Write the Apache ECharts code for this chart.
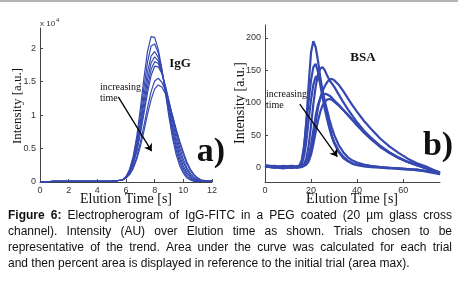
<!DOCTYPE html>
<html>
<head>
<meta charset="utf-8">
<script src="https://cdn.jsdelivr.net/npm/echarts@6/dist/echarts.min.js"></script>
<style>
  html, body { margin: 0; padding: 0; background: #fff; }
  #fig { width: 458px; height: 283px; }
</style>
</head>
<body>
<div id="fig"></div>
<script>
// a) IgG, intensity in units of 10^4
const elutionTimeA = [0, 1, 2, 3, 4, 5, 5.75, 6, 6.25, 6.5, 6.75, 7, 7.25, 7.5, 7.75, 8, 8.25, 8.5, 8.75, 9, 9.25, 9.5, 9.75, 10, 10.25, 10.5, 10.75, 11, 11.25, 11.5, 12];
const iggTrial1 = [0, 0.01, 0.01, 0.01, 0.01, 0.01, 0.03, 0.08, 0.19, 0.38, 0.68, 1.09, 1.55, 1.95, 2.17, 2.16, 1.98, 1.69, 1.33, 0.97, 0.65, 0.41, 0.24, 0.13, 0.06, 0.03, 0.01, 0.01, 0.01, 0.01, 0.01];
const iggTrial2 = [0, 0.01, 0.01, 0.01, 0.01, 0.01, 0.03, 0.08, 0.17, 0.35, 0.62, 0.99, 1.41, 1.79, 2.03, 2.06, 1.93, 1.68, 1.36, 1.03, 0.72, 0.47, 0.29, 0.16, 0.08, 0.04, 0.02, 0.01, 0.01, 0.01, 0.01];
const iggTrial3 = [0, 0.01, 0.01, 0.01, 0.01, 0.01, 0.03, 0.07, 0.16, 0.32, 0.56, 0.89, 1.28, 1.64, 1.88, 1.95, 1.86, 1.66, 1.38, 1.07, 0.78, 0.53, 0.34, 0.20, 0.11, 0.06, 0.03, 0.01, 0.01, 0.01, 0.01];
const iggTrial4 = [0, 0.01, 0.01, 0.01, 0.01, 0.01, 0.03, 0.07, 0.15, 0.29, 0.52, 0.82, 1.18, 1.52, 1.78, 1.87, 1.81, 1.65, 1.40, 1.12, 0.84, 0.59, 0.39, 0.24, 0.14, 0.08, 0.04, 0.02, 0.01, 0.01, 0.01];
const iggTrial5 = [0, 0.01, 0.01, 0.01, 0.01, 0.01, 0.03, 0.07, 0.14, 0.28, 0.48, 0.76, 1.09, 1.42, 1.68, 1.80, 1.77, 1.63, 1.42, 1.17, 0.90, 0.65, 0.45, 0.29, 0.18, 0.10, 0.05, 0.03, 0.01, 0.01, 0.01];
const iggTrial6 = [0, 0.01, 0.01, 0.01, 0.01, 0.01, 0.03, 0.07, 0.14, 0.26, 0.45, 0.71, 1.02, 1.33, 1.59, 1.73, 1.72, 1.62, 1.44, 1.21, 0.96, 0.72, 0.51, 0.34, 0.21, 0.13, 0.07, 0.04, 0.02, 0.01, 0.01];
const iggTrial7 = [0, 0.01, 0.01, 0.01, 0.01, 0.01, 0.03, 0.06, 0.12, 0.22, 0.37, 0.59, 0.84, 1.11, 1.35, 1.51, 1.55, 1.49, 1.37, 1.19, 0.98, 0.77, 0.57, 0.41, 0.27, 0.17, 0.10, 0.06, 0.03, 0.02, 0.01];
const iggTrial8 = [0, 0.01, 0.01, 0.01, 0.01, 0.01, 0.03, 0.06, 0.11, 0.20, 0.34, 0.53, 0.76, 1.01, 1.23, 1.39, 1.45, 1.42, 1.32, 1.17, 0.99, 0.79, 0.61, 0.45, 0.30, 0.19, 0.11, 0.06, 0.03, 0.02, 0.01];
const iggYTicks = [0, 0.5, 1, 1.5, 2];

// b) BSA
const elutionTimeB = [0, 4, 8, 12, 14, 15, 16, 17, 18, 19, 20, 21, 22, 23, 24, 25, 26, 27, 28, 29, 30, 32, 34, 36, 38, 40, 43, 46, 50, 54, 58, 62, 66, 70, 76];
const bsaTrial1 = [3, 1, -1, 2, 1, 3, 8, 30, 75, 130, 178, 195, 186, 165, 140, 118, 98, 80, 64, 50, 40, 26, 17, 11, 7, 5, 3, 2, 1, 0, -1, -2, -3, -5, -8];
const bsaTrial2 = [2, 0, 3, 0, 2, 4, 12, 35, 70, 105, 135, 155, 160, 148, 128, 108, 90, 74, 60, 48, 38, 24, 15, 10, 6, 4, 2, 1, 0, -1, -1, -2, -4, -5, -9];
const bsaTrial3 = [4, 2, 0, 1, 0, 2, 6, 18, 42, 75, 105, 128, 140, 141, 132, 118, 103, 88, 74, 62, 51, 35, 24, 16, 11, 8, 5, 3, 1, 0, -2, -3, -3, -6, -10];
const bsaTrial4 = [1, 3, 1, 0, 2, 1, 3, 6, 15, 35, 65, 98, 125, 143, 153, 155, 150, 142, 135, 130, 125, 113, 101, 90, 80, 70, 57, 46, 33, 23, 15, 9, 4, 0, -7];
const bsaTrial5 = [2, 0, 2, 3, 1, 2, 2, 3, 6, 12, 25, 45, 70, 92, 108, 118, 126, 132, 136, 137, 135, 128, 118, 107, 96, 86, 72, 60, 45, 33, 23, 14, 7, 2, -8];
const bsaTrial6 = [3, 1, 0, 2, 0, 1, 2, 4, 8, 18, 35, 58, 80, 97, 107, 112, 114, 113, 111, 108, 104, 97, 89, 81, 73, 65, 54, 44, 32, 23, 15, 9, 4, -1, -9];
const bsaTrial7 = [1, 2, 1, 0, 2, 1, 1, 3, 5, 10, 20, 36, 55, 72, 86, 96, 102, 105, 106, 105, 102, 96, 89, 82, 74, 67, 56, 46, 34, 24, 16, 9, 4, -1, -10];
const bsaXTicks = [0, 20, 40, 60];
const bsaYTicks = [0, 50, 100, 150, 200];

const captionLines = [
  'Figure 6: Electropherogram of IgG-FITC in a PEG coated (20 µm glass cross',
  'channel). Intensity (AU) over Elution time as shown. Trials chosen to be',
  'representative of the trend. Area under the curve was calculated for each trial',
  'and then percent area is displayed in reference to the initial trial (area max).'
];

let chart = echarts.init(document.getElementById('fig'));

const blue = '#3548b0';
const serif = '"Liberation Serif", "DejaVu Serif", serif';
const sans = '"Liberation Sans", Arial, sans-serif';

function pairs(xs, ys) {
  return xs.map((x, i) => [x, ys[i]]);
}

let axisCommon = {
  type: 'value',
  splitLine: { show: false },
  axisLine: { show: true, onZero: false, lineStyle: { color: '#444', width: 1 } },
  axisTick: { show: true, inside: true, length: 3, lineStyle: { color: '#444' } },
  axisLabel: { fontSize: 9, color: '#333', fontFamily: sans, margin: 4 }
};

// justified caption, word by word
function captionGraphics() {
  let ctx = document.createElement('canvas').getContext('2d');
  let size = 12, left = 8, right = 452, top = 215.5, step = 16.2;
  let els = [];
  captionLines.forEach(function (line, i) {
    let words = line.split(' ').map(function (w, k) {
      let bold = i === 0 && k < 2;
      ctx.font = (bold ? 'bold ' : '') + size + 'px "Liberation Sans"';
      return { w: w, bold: bold, width: ctx.measureText(w).width };
    });
    let total = words.reduce((s, d) => s + d.width, 0);
    ctx.font = size + 'px "Liberation Sans"';
    let gap = i < captionLines.length - 1
      ? (right - left - total) / (words.length - 1)
      : ctx.measureText(' ').width;
    let x = left;
    words.forEach(function (d) {
      els.push({
        type: 'text', x: x, y: top + i * step, silent: true,
        style: {
          text: d.w, fill: '#111', fontSize: size, fontFamily: sans,
          fontWeight: d.bold ? 'bold' : 'normal', verticalAlign: 'middle', align: 'left'
        }
      });
      x += d.width + gap;
    });
  });
  return els;
}

function label(text, x, y, opts) {
  return {
    type: 'text', x: x, y: y, silent: true,
    style: Object.assign({ text: text, fill: '#111', fontFamily: serif, fontSize: 14,
      align: 'center', verticalAlign: 'middle' }, opts || {})
  };
}

let arrowMark = function (from, to) {
  return {
    silent: true,
    symbol: ['none', 'arrow'],
    symbolSize: 7,
    label: { show: false },
    lineStyle: { color: '#000', width: 1.3, type: 'solid' },
    data: [[{ coord: from }, { coord: to }]]
  };
};

let iggTrials = [iggTrial1, iggTrial2, iggTrial3, iggTrial4, iggTrial5, iggTrial6, iggTrial7, iggTrial8];
let bsaTrials = [bsaTrial1, bsaTrial2, bsaTrial3, bsaTrial4, bsaTrial5, bsaTrial6, bsaTrial7];

let series = [];
iggTrials.forEach(function (t, i) {
  series.push({
    type: 'line', xAxisIndex: 0, yAxisIndex: 0, showSymbol: false, silent: true,
    lineStyle: { color: blue, width: 1.2 },
    data: pairs(elutionTimeA, t),
    markLine: i === 0 ? arrowMark([5.46, 1.27], [7.79, 0.46]) : undefined
  });
});
bsaTrials.forEach(function (t, i) {
  series.push({
    type: 'line', xAxisIndex: 1, yAxisIndex: 1, showSymbol: false, silent: true,
    lineStyle: { color: blue, width: 2.2 },
    data: pairs(elutionTimeB, t),
    markLine: i === 0 ? arrowMark([15.1, 98], [31.4, 17]) : undefined
  });
});

let option = {
  animation: false,
  grid: [
    { left: 40, top: 28, width: 172, height: 154 },
    { left: 265, top: 25, width: 175, height: 157 }
  ],
  xAxis: [
    Object.assign({}, axisCommon, { gridIndex: 0, min: 0, max: 12, interval: 2 }),
    Object.assign({}, axisCommon, {
      gridIndex: 1, min: 0, max: 76,
      axisTick: Object.assign({}, axisCommon.axisTick, { customValues: bsaXTicks }),
      axisLabel: Object.assign({}, axisCommon.axisLabel, { customValues: bsaXTicks })
    })
  ],
  yAxis: [
    Object.assign({}, axisCommon, {
      gridIndex: 0, min: 0, max: 2.3,
      axisTick: Object.assign({}, axisCommon.axisTick, { customValues: iggYTicks }),
      axisLabel: Object.assign({}, axisCommon.axisLabel, { customValues: iggYTicks })
    }),
    Object.assign({}, axisCommon, {
      gridIndex: 1, min: -22, max: 220,
      axisTick: Object.assign({}, axisCommon.axisTick, { customValues: bsaYTicks }),
      axisLabel: Object.assign({}, axisCommon.axisLabel, { customValues: bsaYTicks })
    })
  ],
  series: series,
  graphic: [
    { type: 'rect', shape: { x: 0, y: 0, width: 458, height: 2 }, style: { fill: '#b4b4b4' }, silent: true },
    label('x 10', 40, 24, { fontFamily: sans, fontSize: 8, align: 'left', fill: '#333' }),
    label('4', 56, 20, { fontFamily: sans, fontSize: 6, align: 'left', fill: '#333' }),
    Object.assign(label('Intensity [a.u.]', 18, 106, { fontSize: 13 }), { rotation: Math.PI / 2 }),
    Object.assign(label('Intensity [a.u.]', 240, 103), { rotation: Math.PI / 2 }),
    label('Elution Time [s]', 126, 199),
    label('Elution Time [s]', 352, 199),
    label('IgG', 180, 64, { fontWeight: 'bold', fontSize: 13 }),
    label('BSA', 363, 58, { fontWeight: 'bold', fontSize: 13 }),
    label('increasing', 100, 87, { fontSize: 10, align: 'left' }),
    label('time', 100, 98, { fontSize: 10, align: 'left' }),
    label('increasing', 266, 94, { fontSize: 10, align: 'left' }),
    label('time', 266, 105, { fontSize: 10, align: 'left' }),
    label('a)', 211, 152, { fontWeight: 'bold', fontSize: 34 }),
    label('b)', 438, 146, { fontWeight: 'bold', fontSize: 34 })
  ].concat(captionGraphics())
};

chart.setOption(option);
</script>
</body>
</html>
